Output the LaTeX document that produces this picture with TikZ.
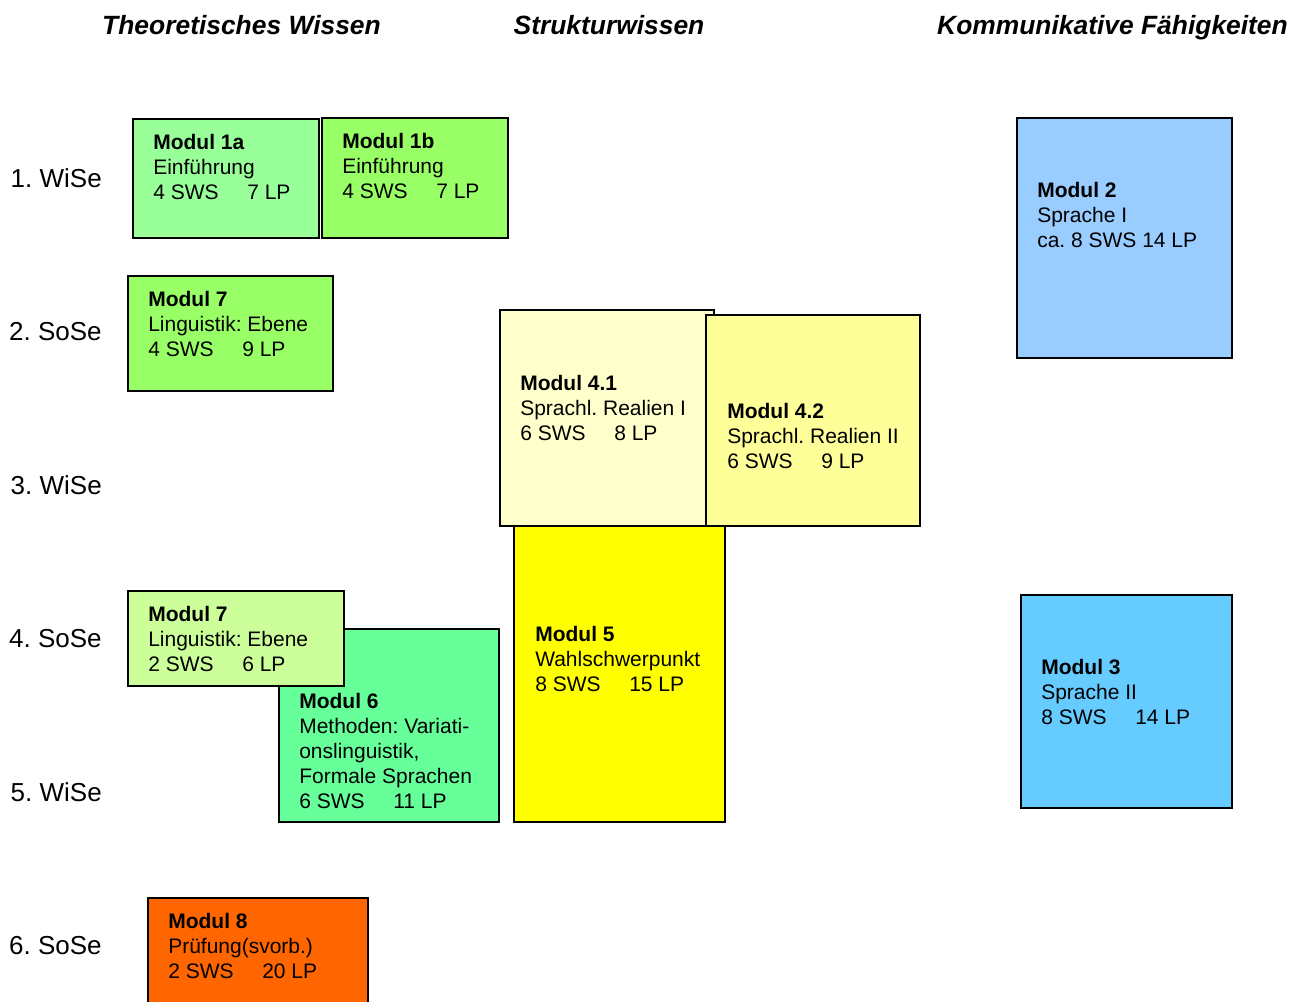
\documentclass[tikz,border=0pt]{standalone}
\usepackage{fontspec}
\setmainfont{Liberation Sans}
\usepackage{xcolor}
\frenchspacing

\definecolor{gruenA}{HTML}{99FF99}
\definecolor{gruenB}{HTML}{99FF66}
\definecolor{gruenC}{HTML}{CCFF99}
\definecolor{gruenD}{HTML}{66FF99}
\definecolor{gelbA}{HTML}{FFFFCC}
\definecolor{gelbB}{HTML}{FFFF99}
\definecolor{gelbC}{HTML}{FFFF00}
\definecolor{blauA}{HTML}{99CCFF}
\definecolor{blauB}{HTML}{66CCFF}
\definecolor{orangeA}{HTML}{FF6600}

% SWS and LP on one line, LP at a tab stop
\newcommand{\swslp}[2]{\makebox[70.5pt][l]{#1}#2}

\begin{document}
\begin{tikzpicture}[x=0.75pt,y=-0.75pt,
    modbox/.style={draw=black, line width=0.8pt},
    modtext/.style={anchor=base west, align=left, inner sep=0pt,
      font=\fontsize{15.75}{18.75}\selectfont},
    semester/.style={anchor=base east, inner sep=0pt,
      font=\fontsize{19.5}{23}\selectfont},
    spalte/.style={anchor=base, inner sep=0pt,
      font=\fontsize{19.8}{23}\selectfont\bfseries\itshape}]

    \clip (0,0) rectangle (1302,1001);
    \fill[white] (0,0) rectangle (1302,1001);

    % Spalten
    \node[spalte] (theorie) at (241.5,34) {Theoretisches Wissen};
    \node[spalte] (struktur) at (609,34) {Strukturwissen};
    \node[spalte] (kommunikation) at (1112.5,34) {Kommunikative Fähigkeiten};

    % Semester
    \node[semester] (sem1) at (102,187) {1. WiSe};
    \node[semester] (sem2) at (102,340) {2. SoSe};
    \node[semester] (sem3) at (102,494) {3. WiSe};
    \node[semester] (sem4) at (102,647) {4. SoSe};
    \node[semester] (sem5) at (102,801) {5. WiSe};
    \node[semester] (sem6) at (102,954) {6. SoSe};

    % Modul 1a, 1b (base = last line)
    \draw[modbox, fill=gruenA] (133,119) rectangle (319,238);
    \node[modtext] (m1a) at (153,199) {\textbf{Modul 1a}\\Einführung\\\swslp{4 SWS}{7 LP}};
    \draw[modbox, fill=gruenB] (322,118) rectangle (508,238);
    \node[modtext] (m1b) at (342,198) {\textbf{Modul 1b}\\Einführung\\\swslp{4 SWS}{7 LP}};

    % Modul 7 (2. SoSe)
    \draw[modbox, fill=gruenB] (128,276) rectangle (333,391);
    \node[modtext] (m7a) at (148,356) {\textbf{Modul 7}\\Linguistik: Ebene\\\swslp{4 SWS}{9 LP}};

    % Modul 5, 4.1, 4.2
    \draw[modbox, fill=gelbC] (514,526) rectangle (725,822);
    \node[modtext] (m5) at (535,691) {\textbf{Modul 5}\\Wahlschwerpunkt\\\swslp{8 SWS}{15 LP}};
    \draw[modbox, fill=gelbA] (500,310) rectangle (714,526);
    \node[modtext] (m41) at (520,440) {\textbf{Modul 4.1}\\Sprachl. Realien I\\\swslp{6 SWS}{8 LP}};
    \draw[modbox, fill=gelbB] (706,315) rectangle (920,526);
    \node[modtext] (m42) at (727,468) {\textbf{Modul 4.2}\\Sprachl. Realien II\\\swslp{6 SWS}{9 LP}};

    % Modul 6 und Modul 7 (4. SoSe)
    \draw[modbox, fill=gruenD] (279,629) rectangle (499,822);
    \node[modtext] (m6) at (299,808) {\textbf{Modul 6}\\Methoden: Variati-\\onslinguistik,\\Formale Sprachen\\\swslp{6 SWS}{11 LP}};
    \draw[modbox, fill=gruenC] (128,591) rectangle (344,686);
    \node[modtext] (m7b) at (148,671) {\textbf{Modul 7}\\Linguistik: Ebene\\\swslp{2 SWS}{6 LP}};

    % Sprache
    \draw[modbox, fill=blauA] (1017,118) rectangle (1232,358);
    \node[modtext] (m2) at (1037,247) {\textbf{Modul 2}\\Sprache I\\ca. 8 SWS 14 LP};
    \draw[modbox, fill=blauB] (1021,595) rectangle (1232,808);
    \node[modtext] (m3) at (1041,724) {\textbf{Modul 3}\\Sprache II\\\swslp{8 SWS}{14 LP}};

    % Modul 8
    \draw[modbox, fill=orangeA] (148,898) rectangle (368,1010);
    \node[modtext] (m8) at (168,978) {\textbf{Modul 8}\\Prüfung(svorb.)\\\swslp{2 SWS}{20 LP}};

\end{tikzpicture}
\end{document}
